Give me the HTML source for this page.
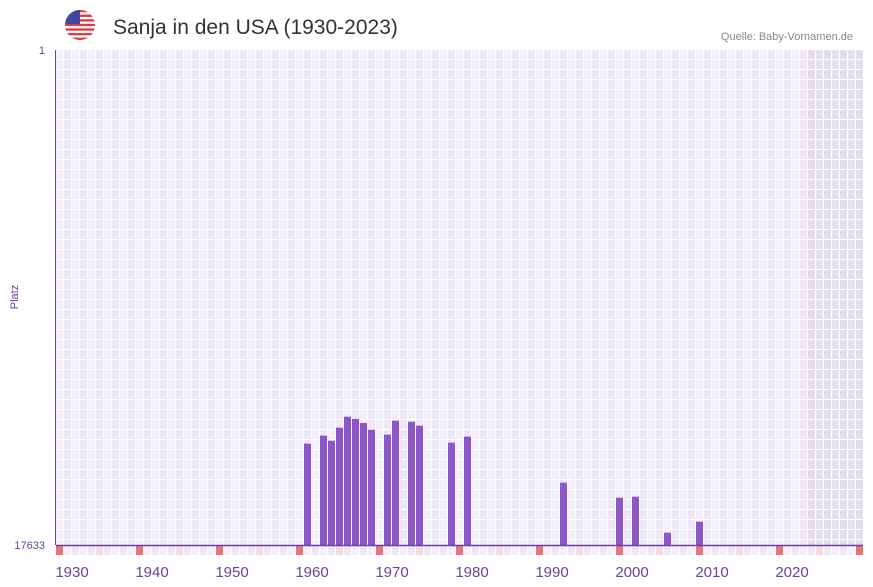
<!DOCTYPE html>
<html><head><meta charset="utf-8"><style>
body{margin:0;background:#fff;font-family:"Liberation Sans",sans-serif}
svg{display:block}
</style></head><body>
<svg id="c" width="873" height="587" xmlns="http://www.w3.org/2000/svg">
<g>
<clipPath id="fc"><circle cx="80" cy="25" r="15"/></clipPath>
<g clip-path="url(#fc)">
<rect x="65" y="10" width="30" height="30" fill="#fff"/>
<rect x="65" y="10" width="30" height="2.3" fill="#e0393e"/>
<rect x="65" y="14.6" width="30" height="2.3" fill="#e0393e"/>
<rect x="65" y="19.2" width="30" height="2.3" fill="#e0393e"/>
<rect x="65" y="23.8" width="30" height="2.3" fill="#e0393e"/>
<rect x="65" y="28.4" width="30" height="2.3" fill="#e0393e"/>
<rect x="65" y="33" width="30" height="2.3" fill="#e0393e"/>
<rect x="65" y="37.6" width="30" height="2.4" fill="#e0393e"/>
<rect x="65" y="10" width="15" height="14" fill="#41479b"/>
</g></g>
<text x="113" y="34" font-size="21" fill="#333">Sanja in den USA (1930-2023)</text>
<text x="853" y="40" font-size="11" fill="#888" text-anchor="end">Quelle: Baby-Vornamen.de</text>
<g id="grid"></g><g id="bars"></g><g id="marks"></g>
<line x1="55.5" y1="50" x2="55.5" y2="545" stroke="#6a3fa0" stroke-width="1"/>
<line x1="56" y1="545.5" x2="863" y2="545.5" stroke="#6a3fa0" stroke-width="1.5"/>
<text x="45" y="54" font-size="11" fill="#6a3fa0" text-anchor="end">1</text>
<text x="45" y="549" font-size="11" fill="#6a3fa0" text-anchor="end">17633</text>
<text x="18" y="297" font-size="11" fill="#6a3fa0" text-anchor="middle" transform="rotate(-90 18 297)">Platz</text>
<g id="xl"></g>
</svg>
<script>
const years=[1961,1963,1964,1965,1966,1967,1968,1969,1971,1972,1974,1975,1979,1981,1993,2000,2002,2006,2010];
const ranks=[14024,13739,13917,13454,13062,13145,13287,13525,13703,13204,13240,13383,13988,13774,15413,15947,15912,17194,16802];
const xTicks=[1930,1940,1950,1960,1970,1980,1990,2000,2010,2020];
const NS="http://www.w3.org/2000/svg";
const x0=56,slot=8,plotTop=50,plotBot=545,maxRank=17633,startYear=1930;
const xs=y=>x0+(y-startYear)*slot;
const ys=r=>plotTop+(r-1)/(maxRank-1)*(plotBot-plotTop);
function mk(t,a,p){const e=document.createElementNS(NS,t);for(const k in a)e.setAttribute(k,a[k]);p.appendChild(e);return e;}
const g=document.getElementById('grid');
for(let i=0;i<101;i++){
  const gray=i>=94;
  const c=gray?(i%2?'#e6e1ef':'#e2dcec'):(i%2?'#ece6f7':'#f3f0fb');
  const col=mk('rect',{x:x0+i*slot,y:plotTop,width:slot,height:plotBot-plotTop,fill:c},g);
  
  
}
for(let i=0;i<=101;i++){mk('rect',{x:x0+i*slot-1,y:plotTop,width:1,height:plotBot-plotTop,fill:'#fff'},g);}
for(let y=plotTop+10;y<plotBot;y+=10){mk('rect',{x:x0,y:y-1,width:807,height:1,fill:'#fff'},g);}
const b=document.getElementById('bars');
years.forEach((yr,i)=>{
  const y=ys(ranks[i]);
  const r=mk('rect',{x:xs(yr),y:y,width:7,height:plotBot-y,fill:'#8e55c8'},b);
  
  
});
const m=document.getElementById('marks');
for(let i=0;i<101;i++){
  const c=i%10==0?'#e8737a':i%5==0?'#f5d8e0':(i%2?'#f3f0fb':'#ece6f7');
  const r=mk('rect',{x:x0+i*slot,y:546,width:7,height:9,fill:c},m);
  
  
}
const xl=document.getElementById('xl');
xTicks.forEach(t=>{
  const e=mk('text',{x:xs(t)+16,y:577,'font-size':15,fill:'#6a3fa0','text-anchor':'middle'},xl);
  e.textContent=t;
  
  
});
</script>
</body></html>
